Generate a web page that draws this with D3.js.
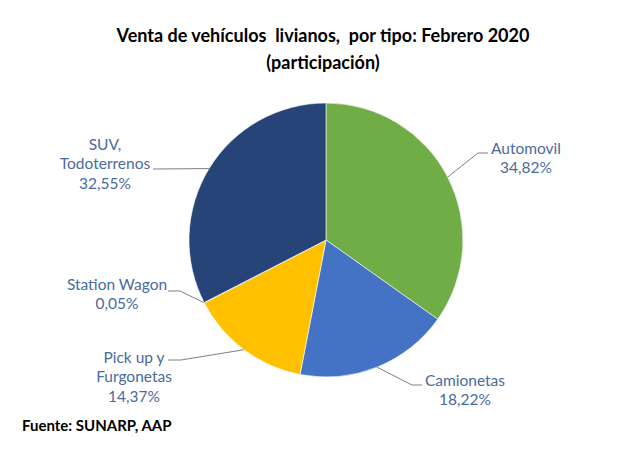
<!DOCTYPE html>
<html>
<head>
<meta charset="utf-8">
<script src="https://cdn.jsdelivr.net/npm/d3@7/dist/d3.min.js"></script>
<style>
    body { margin: 0; background: #fff; }
    svg { display: block; }
    text { white-space: pre; }
</style>
</head>
<body>
<div id="chart"></div>
<script>
// Chart data
const categories = ["Automovil", "Camionetas", "Pick up y Furgonetas", "Station Wagon", "SUV, Todoterrenos"];
const shares = [34.82, 18.22, 14.37, 0.05, 32.55];
const labelLines = [
    ["Automovil", "34,82%"],
    ["Camionetas", "18,22%"],
    ["Pick up y", "Furgonetas", "14,37%"],
    ["Station Wagon", "0,05%"],
    ["SUV,", "Todoterrenos", "32,55%"],
];

// Styles
const sliceColors = ["#70AD47", "#4472C4", "#FFC000", "#A5A5A5", "#264478"];
const labelColor = "#4A6B9C";
const leaderColor = "#808080";

// Layout (px)
const width = 630, height = 456;
const cx = 326, cy = 240, radius = 137;
const lineGap = 19.5;

// Label placement relative to pie centre: text block centre, elbow of leader, end of leader
const labelLayout = [
    { tx: 200, ty: -82, elbow: [152, -87], end: [162, -87] },
    { tx: 139, ty: 150, elbow: [86, 145], end: [96, 145] },
    { tx: -192, ty: 137, elbow: [-145, 120], end: [-158, 120] },
    { tx: -209, ty: 54, elbow: [-146, 51], end: [-158, 51] },
    { tx: -221, ty: -76, elbow: [-173, -71], end: [-173, -71] },
];

const svg = d3.select("#chart").append("svg")
    .attr("width", width)
    .attr("height", height);

svg.append("rect").attr("width", width).attr("height", height).attr("fill", "#fff");

// Title
const title = svg.append("text")
    .attr("x", 323)
    .attr("y", 42)
    .attr("text-anchor", "middle")
    .attr("font-family", "Lato, sans-serif")
    .attr("font-weight", "bold")
    .attr("font-size", 18)
    .attr("fill", "#000");
title.append("tspan").attr("x", 323).text("Venta de vehículos  livianos,  por tipo: Febrero 2020");
title.append("tspan").attr("x", 323).attr("dy", 27).text("(participación)");

// Pie
const pie = d3.pie().sort(null).value(d => d)(shares);
const arc = d3.arc().innerRadius(0).outerRadius(radius);
const edge = d3.arc().innerRadius(radius).outerRadius(radius);

const g = svg.append("g").attr("transform", `translate(${cx},${cy})`);

g.selectAll(".slice")
    .data(pie)
    .enter()
    .append("path")
    .attr("class", "slice")
    .attr("d", arc)
    .attr("fill", (d, i) => sliceColors[i])
    .attr("stroke", "#fff")
    .attr("stroke-width", 0.6);

// Leader lines
g.selectAll(".leader")
    .data(pie)
    .enter()
    .append("polyline")
    .attr("class", "leader")
    .attr("points", (d, i) => {
        const p = edge.centroid(d);
        const l = labelLayout[i];
        return [p, l.elbow, l.end].map(q => q.join(",")).join(" ");
    })
    .attr("fill", "none")
    .attr("stroke", leaderColor)
    .attr("stroke-width", 1);

// Labels
const labels = g.selectAll(".label")
    .data(pie)
    .enter()
    .append("text")
    .attr("class", "label")
    .attr("text-anchor", "middle")
    .attr("font-family", "Lato, sans-serif")
    .attr("font-size", 15.5)
    .attr("fill", labelColor);

labels.each(function(d, i) {
    const lines = labelLines[i];
    const l = labelLayout[i];
    const top = l.ty - (lines.length - 1) * lineGap / 2;
    d3.select(this).selectAll("tspan")
        .data(lines)
        .enter()
        .append("tspan")
        .attr("x", l.tx)
        .attr("y", (s, j) => top + j * lineGap)
        .attr("dy", "0.35em")
        .text(s => s);
});

// Source
svg.append("text")
    .attr("x", 22)
    .attr("y", 431)
    .attr("font-family", "Lato, sans-serif")
    .attr("font-weight", "bold")
    .attr("font-size", 15)
    .attr("fill", "#000")
    .text("Fuente: SUNARP, AAP");
</script>
</body>
</html>
